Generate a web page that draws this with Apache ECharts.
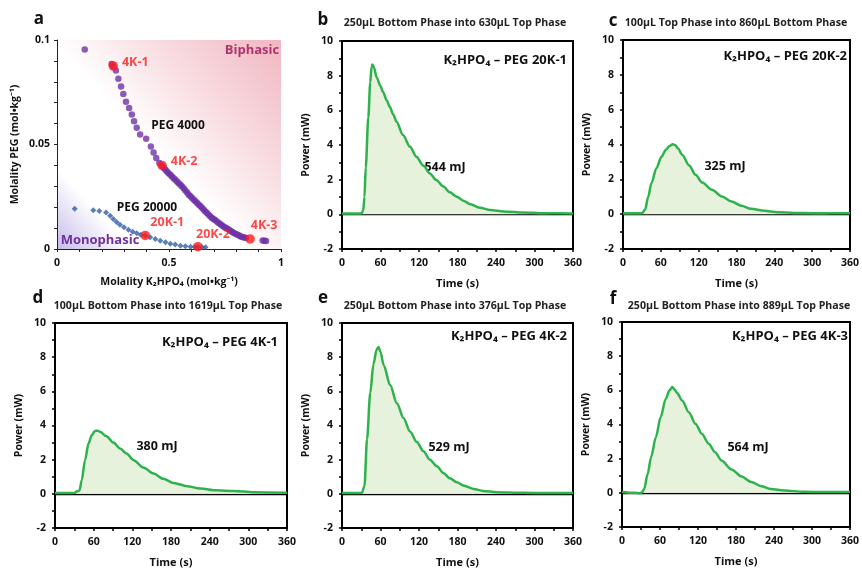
<!DOCTYPE html>
<html><head><meta charset="utf-8">
<script src="https://cdn.jsdelivr.net/npm/echarts@6/dist/echarts.min.js"></script>
<style>html,body{margin:0;padding:0;background:#fff}#c{width:862px;height:569px}</style>
</head><body><div id="c"></div>
<script>
// ---------- Panel a data (molality, mol/kg) ----------
const peg4kX = [0.124,0.244,0.251,0.263,0.274,0.286,0.296,0.308,0.322,0.334,0.344,0.356,0.371,0.398,0.419,0.431,0.443,0.457,0.469,0.477,0.484,0.491,0.498,0.506,0.513,0.521,0.528,0.536,0.543,0.551,0.558,0.566,0.573,0.581,0.588,0.596,0.603,0.611,0.618,0.626,0.633,0.641,0.648,0.655,0.662,0.670,0.677,0.685,0.692,0.700,0.707,0.715,0.722,0.730,0.737,0.745,0.753,0.760,0.768,0.775,0.783,0.790,0.798,0.806,0.813,0.820,0.828,0.836,0.843,0.918,0.926,0.933];
const peg4kY = [0.0955,0.0885,0.0873,0.0854,0.0815,0.0777,0.0742,0.0705,0.0675,0.0643,0.0611,0.0580,0.0548,0.0527,0.0490,0.0462,0.0435,0.0411,0.0398,0.0388,0.0379,0.0371,0.0363,0.0355,0.0347,0.0339,0.0331,0.0323,0.0315,0.0307,0.0299,0.0290,0.0280,0.0270,0.0260,0.0252,0.0244,0.0236,0.0228,0.0220,0.0212,0.0204,0.0196,0.0188,0.0180,0.0172,0.0164,0.0156,0.0148,0.0142,0.0137,0.0130,0.0124,0.0118,0.0113,0.0107,0.0102,0.0097,0.0092,0.0086,0.0081,0.0076,0.0072,0.0068,0.0064,0.0060,0.0057,0.0055,0.0053,0.0041,0.0040,0.0038];
const peg20kX = [0.079,0.162,0.189,0.219,0.237,0.251,0.266,0.281,0.299,0.319,0.338,0.356,0.374,0.394,0.416,0.439,0.461,0.484,0.506,0.528,0.551,0.573,0.596,0.615,0.629,0.648,0.663];
const peg20kY = [0.0193,0.0185,0.0182,0.0175,0.0159,0.0143,0.0129,0.0116,0.0104,0.0092,0.0083,0.0075,0.0068,0.0064,0.0056,0.0048,0.0040,0.0032,0.0025,0.0021,0.0016,0.0013,0.0011,0.0010,0.0011,0.0008,0.0008];
const redNames = ['4K-1','4K-2','4K-3','20K-1','20K-2'];
const redX = [0.251,0.469,0.862,0.394,0.629];
const redY = [0.0876,0.0400,0.0048,0.0065,0.0011];

// ---------- Power curves (time s, power mW) ----------
const tB = [0,20,30,33,35,37,41,44,46,47.5,50,54,60,64,70,74.5,80,85,95,106,116,127,137,147,158,168,179,189,199,215,231,252,283,314,360];
const pB = [0.05,0.05,0.06,0.2,1.0,2.7,5.6,7.6,8.5,8.65,8.45,7.9,7.4,7.06,6.55,6.2,5.75,5.34,4.57,3.9,3.32,2.8,2.36,1.98,1.6,1.27,1.02,0.79,0.6,0.38,0.25,0.17,0.11,0.06,0.05];
const tC = [0,20,30,35,40,45,53,61,68,74,79,83,87,94,105,115,125.5,141,157,172,188,203,224,245,286,320,360];
const pC = [0.05,0.05,0.06,0.25,1.0,1.78,2.64,3.3,3.7,3.92,4.02,3.95,3.79,3.4,2.8,2.26,1.82,1.4,1.01,0.73,0.48,0.31,0.19,0.11,0.06,0.05,0.05];
const tD = [0,20,31,34,38,41.5,46.6,52,57,62,66,70,80,90.6,101,111,122,137,153,168,184,205,225,251,277,308,360];
const pD = [0.05,0.05,0.06,0.15,0.2,0.8,1.97,2.94,3.43,3.68,3.7,3.63,3.37,3.0,2.65,2.36,1.97,1.54,1.19,0.88,0.64,0.45,0.31,0.21,0.16,0.10,0.07];
const tE = [0,20,31,35,39,44,49,54,57,60,65,75,85.5,96,106,116.6,127,137,148,158,168,179,189,205,220,241,282,320,360];
const pE = [0.05,0.05,0.06,0.45,3.2,5.9,7.6,8.45,8.6,8.3,7.53,6.37,5.3,4.43,3.65,3.03,2.49,2.0,1.61,1.22,0.91,0.68,0.49,0.29,0.17,0.10,0.06,0.05,0.05];
const tF = [0,20,28,32,35,40.5,46,53.5,61,69,75,79.5,83,87,95,105.5,116,126,137,147,157,173,188.6,204,220,235,256,287,320,360];
const pF = [0.05,0.0,-0.03,0.05,0.23,1.1,2.1,3.26,4.43,5.5,6.0,6.2,6.05,5.84,5.4,4.72,4.04,3.46,2.87,2.38,1.9,1.37,0.96,0.64,0.39,0.23,0.14,0.06,0.05,0.05];

// ---------- Texts ----------
const panelLetters = ['a','b','c','d','e','f'];
const panelTitles = ['', '250\u03bcL Bottom Phase into 630\u03bcL Top Phase','100\u03bcL Top Phase into 860\u03bcL Bottom Phase','100\u03bcL Bottom Phase into 1619\u03bcL Top Phase','250\u03bcL Bottom Phase into 376\u03bcL Top Phase','250\u03bcL Bottom Phase into 889\u03bcL Top Phase'];
const systemLabels = ['', '20K-1','20K-2','4K-1','4K-2','4K-3'];
const energies = ['', '544 mJ','325 mJ','380 mJ','529 mJ','564 mJ'];

// ---------- Layout ----------
const FF = "'Open Sans','Noto Sans',sans-serif";
const grids = [
  {left:57, top:40, width:224, height:209},
  {left:342,top:41, width:231, height:208},
  {left:623,top:40, width:231, height:209},
  {left:55, top:323,width:232, height:207},
  {left:342,top:323,width:231, height:206},
  {left:622,top:322,width:231, height:205}
];
const letterPos = [[39,19],[323,20],[613,21],[38,298],[323,298],[613,299]];
const titlePos = [null,[455,23],[736,23],[168,306],[455,306],[739,306]];
const sysPos = [null,[567,60],[847,56],[278,342],[567,336],[848,336]];
const enPos = [null,[445,167],[725,166],[157,446],[449,447],[748,447]];

const green = '#2eb24e', fillGreen = '#e7f2dc';
const curves = [null,[tB,pB],[tC,pC],[tD,pD],[tE,pE],[tF,pF]];

const gridOpts = grids.map((g,i)=> i===0 ? Object.assign({
    show:true, borderWidth:0,
    backgroundColor: new echarts.graphic.LinearGradient(1,0,0,1,[
      {offset:0,color:'#f1b6c1'},{offset:0.3,color:'#f8dce1'},{offset:0.55,color:'#ffffff'},
      {offset:0.82,color:'#ffffff'},{offset:1,color:'#c3bbe9'}])
  },g) : Object.assign({show:true, borderColor:'#000', borderWidth:2, backgroundColor:'transparent'},g));

const axLabel = {fontFamily:FF, fontWeight:'bold', fontSize:10.5, color:'#111'};
const xAxes = [], yAxes = [], series = [];
// panel a
xAxes.push({type:'value', gridIndex:0, min:0, max:1, interval:0.5,
  axisLine:{lineStyle:{color:'#222',width:1}}, axisTick:{show:true,length:3,lineStyle:{color:'#222'}},
  minorTick:{show:true,splitNumber:5,length:3,lineStyle:{color:'#222'}}, splitLine:{show:false},
  axisLabel:Object.assign({margin:9, formatter:v=>String(v)},axLabel),
  name:'Molality K\u2082HPO\u2084 (mol\u2022kg\u207b\u00b9)', nameLocation:'middle', nameGap:28,
  nameTextStyle:{fontFamily:FF,fontWeight:'bold',fontSize:10.5,color:'#111'}});
yAxes.push({type:'value', gridIndex:0, min:0, max:0.1, interval:0.05,
  axisLine:{show:true,lineStyle:{color:'#222',width:1}}, axisTick:{show:true,length:3,lineStyle:{color:'#222'}},
  minorTick:{show:true,splitNumber:5,length:3,lineStyle:{color:'#222'}}, splitLine:{show:false},
  axisLabel:Object.assign({margin:7, formatter:v=>String(v)},axLabel),
  name:'Molality PEG (mol\u2022kg\u207b\u00b9)', nameLocation:'middle', nameGap:36, nameRotate:90,
  nameTextStyle:{fontFamily:FF,fontWeight:'bold',fontSize:10.5,color:'#111'}});
series.push({type:'scatter', xAxisIndex:0, yAxisIndex:0, symbol:'circle', symbolSize:6.5,
  itemStyle:{color:'#6f32a6'}, data:peg4kX.map((x,i)=>[x,peg4kY[i]]), z:3});
series.push({type:'scatter', xAxisIndex:0, yAxisIndex:0, symbol:'diamond', symbolSize:6,
  itemStyle:{color:'#2f5ea6'}, data:peg20kX.map((x,i)=>[x,peg20kY[i]]), z:3});
const redLabelStyle = {
  '4K-1':{position:'right',distance:4,offset:[0,-3]},
  '4K-2':{position:'right',distance:4,offset:[0,-4]},
  '4K-3':{position:'top',distance:2,offset:[14,0]},
  '20K-1':{position:'top',distance:2,offset:[22,0]},
  '20K-2':{position:'top',distance:1,offset:[15,0]}
};
series.push({type:'scatter', xAxisIndex:0, yAxisIndex:0, symbol:'circle', symbolSize:9.5,
  itemStyle:{color:'#ff1a1a'}, z:5,
  label:{show:true, formatter:'{b}', color:'#ff1a1a', fontFamily:FF, fontWeight:'bold', fontSize:12.5},
  data:redNames.map((n,i)=>({name:n, value:[redX[i],redY[i]], label:redLabelStyle[n]}))});

for (let k=1;k<6;k++){
  xAxes.push({type:'value', gridIndex:k, min:0, max:360, interval:60,
    axisLine:{onZero:false,lineStyle:{color:'#000',width:2}},
    axisTick:{show:true,length:3,lineStyle:{color:'#000',width:1.5}},
    minorTick:{show:true,splitNumber:2,length:3,lineStyle:{color:'#000',width:1.5}},
    splitLine:{show:false}, axisLabel:Object.assign({margin:9},axLabel),
    name:'Time (s)', nameLocation:'middle', nameGap:29,
    nameTextStyle:{fontFamily:FF,fontWeight:'bold',fontSize:11,color:'#111'}});
  yAxes.push({type:'value', gridIndex:k, min:-2, max:10, interval:2,
    axisLine:{show:true,lineStyle:{color:'#000',width:2}},
    axisTick:{show:true,length:3,lineStyle:{color:'#000',width:1.5}},
    minorTick:{show:true,splitNumber:2,length:3,lineStyle:{color:'#000',width:1.5}},
    splitLine:{show:false}, axisLabel:Object.assign({margin:9},axLabel),
    name:'Power (mW)', nameLocation:'middle', nameGap:30, nameRotate:90,
    nameTextStyle:{fontFamily:FF,fontWeight:'bold',fontSize:10.5,color:'#111'}});
  const [ts,ps] = curves[k];
  series.push({type:'line', xAxisIndex:k, yAxisIndex:k, showSymbol:false, smooth:0.3, smoothMonotone:'x',
    lineStyle:{color:green,width:2.5}, areaStyle:{color:fillGreen, origin:0, opacity:1},
    data:ts.map((t,i)=>[t,ps[i]]), z:3,
    markLine:{silent:true, symbol:'none', label:{show:false}, lineStyle:{color:'#000',width:1.3,type:'solid'},
      data:[{yAxis:0}], z:2}});
}

const graphics = [];
panelLetters.forEach((L,i)=>graphics.push({type:'text', x:letterPos[i][0], y:letterPos[i][1],
  style:{text:L, font:"bold 17px "+FF, fill:'#111', textAlign:'center', textVerticalAlign:'middle'}}));
for (let k=1;k<6;k++){
  graphics.push({type:'text', x:titlePos[k][0], y:titlePos[k][1],
    style:{text:panelTitles[k], font:"bold 10.6px "+FF, fill:'#222', textAlign:'center', textVerticalAlign:'middle'}});
  graphics.push({type:'text', x:sysPos[k][0], y:sysPos[k][1],
    style:{text:'K\u2082HPO\u2084 \u2013 PEG '+systemLabels[k], font:"bold 13px "+FF, fill:'#111', textAlign:'right', textVerticalAlign:'middle'}});
  graphics.push({type:'text', x:enPos[k][0], y:enPos[k][1],
    style:{text:energies[k], font:"bold 12.5px "+FF, fill:'#111', textAlign:'center', textVerticalAlign:'middle'}});
}
// panel a region labels
const regionTexts = [['Biphasic',252,50,'#b0346a',13],['Monophasic',100,240,'#7030a0',13],['PEG 4000',178,126,'#111',12],['PEG 20000',147,208,'#111',12]];
regionTexts.forEach(r=>graphics.push({type:'text', x:r[1], y:r[2], z:10,
  style:{text:r[0], font:"bold "+r[4]+"px "+FF, fill:r[3], textAlign:'center', textVerticalAlign:'middle'}}));

const chart = echarts.init(document.getElementById('c'), null, {renderer:'canvas'});
chart.setOption({animation:false, backgroundColor:'#fff', grid:gridOpts, xAxis:xAxes, yAxis:yAxes, series:series, graphic:graphics});
</script></body></html>
